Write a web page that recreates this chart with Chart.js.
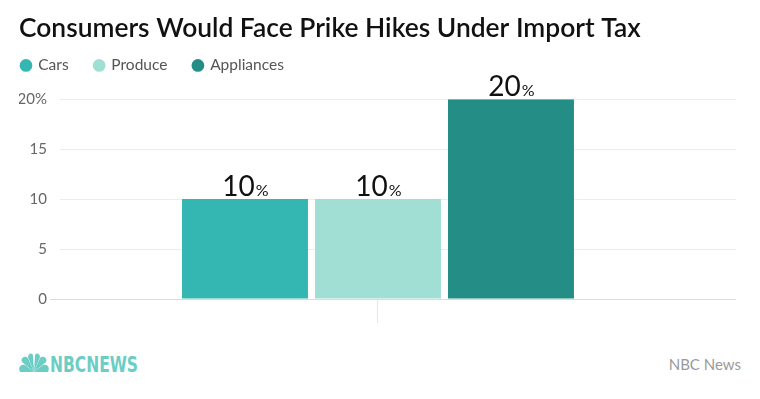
<!DOCTYPE html>
<html><head><meta charset="utf-8">
<script src="https://cdn.jsdelivr.net/npm/chart.js@4/dist/chart.umd.min.js"></script>
<style>
html,body{margin:0;padding:0;background:#fff;}
#wrap{position:relative;width:760px;height:399px;}
#c{position:absolute;left:0;top:0;}
#logo{position:absolute;left:19px;top:352px;}
#src{position:absolute;right:19px;top:355px;font:15px Lato,"Open Sans",sans-serif;color:#9a9a9a;}
</style></head>
<body><div id="wrap">
<canvas id="c" width="760" height="323"></canvas>
<svg id="logo" width="122" height="22" viewBox="0 0 122 22">
  <g fill="#6ccdc4">
    <path d="M15 20 L1 20 C-1 16 1 12 6 13 Z"/>
    <path d="M15 20 L3 10 C1 6 6 3 9 6 Z"/>
    <path d="M15 20 L9 5 C9 1 14 0 14 4 Z"/>
    <path d="M15 20 L16 4 C16 0 21 1 21 5 Z"/>
    <path d="M15 20 L21 6 C24 3 29 6 27 10 Z"/>
    <path d="M15 20 L24 13 C29 12 31 16 29 20 Z"/>
  </g>
  <text x="31" y="20" font-family="'Liberation Sans Narrow','DejaVu Sans Condensed',sans-serif" font-weight="bold" font-size="21" fill="#6ccdc4" textLength="88" lengthAdjust="spacingAndGlyphs">NBCNEWS</text>
</svg>
<div id="src">NBC News</div>
</div>
<script>
const categories = ["Cars", "Produce", "Appliances"];
const values = [10, 10, 20];
const colors = ["#34b7b3", "#a1dfd4", "#238d86"];
const yTicks = [0, 5, 10, 15, 20];
const title = "Consumers Would Face Prike Hikes Under Import Tax";

const datasets = categories.map((name, i) => ({
  label: name,
  data: [{x: i, y: values[i]}],
  backgroundColor: colors[i],
  borderWidth: 0,
  grouped: false,
  categoryPercentage: 1,
  barPercentage: 0.947
}));

const valueLabels = {
  id: 'valueLabels',
  afterDatasetsDraw(chart) {
    const ctx = chart.ctx;
    chart.data.datasets.forEach((ds, i) => {
      const meta = chart.getDatasetMeta(i);
      meta.data.forEach((el, j) => {
        const v = ds.data[j].y;
        const big = '400 28px Lato, sans-serif', small = '400 16px Lato, sans-serif';
        ctx.save();
        ctx.font = big; const w1 = ctx.measureText(String(v)).width;
        ctx.font = small; const w2 = ctx.measureText('%').width;
        const x0 = el.x - (w1 + w2) / 2, yb = el.y - 3;
        ctx.fillStyle = '#111';
        ctx.textBaseline = 'alphabetic';
        ctx.font = big; ctx.fillText(String(v), x0, yb);
        ctx.font = small; ctx.fillText('%', x0 + w1 + 1, yb);
        ctx.restore();
      });
    });
  }
};

const legendShift = {
  id: 'legendShift',
  afterLayout(chart) {
    const lg = chart.legend;
    lg.left -= 23.5;
    lg.top -= 16;
  }
};

new Chart(document.getElementById('c'), {
  type: 'bar',
  data: {datasets},
  plugins: [valueLabels, legendShift],
  options: {
    responsive: false,
    animation: false,
    layout: {padding: {left: 19, right: 24, top: 10, bottom: 0}},
    plugins: {
      title: {
        display: true, text: title, align: 'start',
        color: '#111', font: {family: 'Lato, sans-serif', size: 26.4, weight: '600'},
        padding: {top: 3, bottom: 3}
      },
      legend: {
        display: true, align: 'start',
        labels: {
          usePointStyle: true, pointStyle: 'circle', boxWidth: 9, boxHeight: 9,
          color: '#555', font: {family: 'Lato, sans-serif', size: 15.5}, padding: 26
        }
      },
      tooltip: {enabled: false}
    },
    scales: {
      x: {
        type: 'linear', min: -1.391, max: 3.692, offset: false,
        afterBuildTicks: s => { s.ticks = [{value: 1}]; },
        grid: {offset: false, drawOnChartArea: false, drawTicks: true, tickLength: 24, color: '#e6e6e6', tickColor: '#e6e6e6'},
        border: {display: false},
        ticks: {display: false}
      },
      y: {
        min: 0, max: 20,
        afterBuildTicks: s => { s.ticks = yTicks.map(v => ({value: v})); },
        afterFit: s => { s.width = 41; },
        ticks: {
          color: '#666', font: {family: 'Lato, sans-serif', size: 15}, padding: 3,
          callback: (v) => v === 20 ? v + '%' : String(v)
        },
        grid: {
          color: ctx => ctx.tick && ctx.tick.value === 0 ? '#dcdcdc' : '#ececec',
          tickColor: ctx => ctx.tick && ctx.tick.value === 0 ? '#dcdcdc' : 'rgba(0,0,0,0)',
          tickLength: 10
        },
        border: {display: false}
      }
    }
  }
});
</script>
</body></html>
